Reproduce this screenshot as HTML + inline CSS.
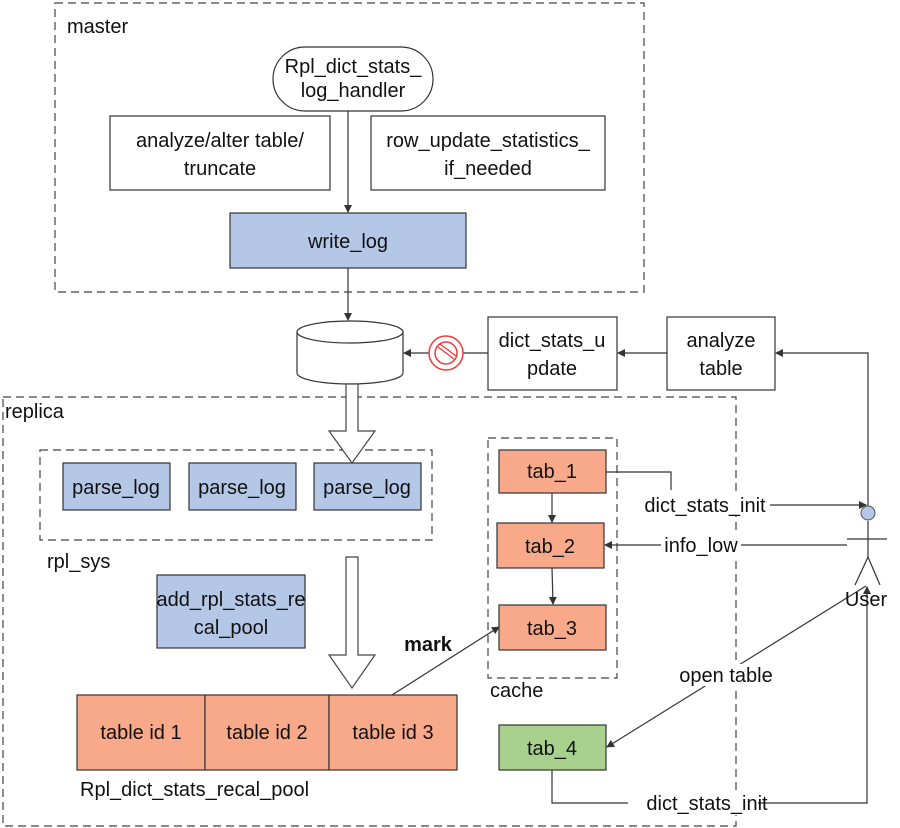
<!DOCTYPE html>
<html><head><meta charset="utf-8"><style>body{margin:0;background:#fff}svg{display:block}text{font-family:"Liberation Sans","Noto Sans CJK SC",sans-serif;font-size:20px;fill:#111}</style></head><body>
<svg width="900" height="828" viewBox="0 0 900 828" xmlns="http://www.w3.org/2000/svg">
<defs><marker id="a" markerWidth="8" markerHeight="8" refX="7" refY="4" orient="auto" markerUnits="userSpaceOnUse"><path d="M0,0 L8,4 L0,8 z" fill="#333"/></marker></defs>
<g fill="none" stroke="#444" stroke-width="1.2" stroke-dasharray="8,5">
<rect x="55" y="3" width="589" height="289"/>
<rect x="3" y="397" width="733" height="429"/>
<rect x="40" y="450" width="392" height="90"/>
<rect x="488" y="438" width="129" height="240"/>
</g>
<text x="67" y="33">master</text>
<text x="5" y="418">replica</text>
<text x="47" y="568">rpl_sys</text>
<text x="490" y="697">cache</text>
<text x="80" y="796">Rpl_dict_stats_recal_pool</text>
<g stroke="#333" stroke-width="1.2">
<rect x="273" y="47" width="160" height="64" rx="32" fill="#fff"/>
<rect x="110" y="116" width="220" height="74" fill="#fff"/>
<rect x="371" y="116" width="234" height="74" fill="#fff"/>
<rect x="230" y="213" width="236" height="55" fill="#b4c7e7"/>
<rect x="488" y="317" width="129" height="73" fill="#fff"/>
<rect x="667" y="317" width="108" height="73" fill="#fff"/>
<rect x="63" y="463" width="107" height="47" fill="#b4c7e7"/>
<rect x="189" y="463" width="107" height="47" fill="#b4c7e7"/>
<rect x="314" y="463" width="107" height="47" fill="#b4c7e7"/>
<rect x="157" y="575" width="148" height="73" fill="#b4c7e7"/>
<rect x="77" y="695" width="128" height="75" fill="#f8a98a"/>
<rect x="205" y="695" width="124" height="75" fill="#f8a98a"/>
<rect x="329" y="695" width="128" height="75" fill="#f8a98a"/>
<rect x="499" y="450" width="107" height="43" fill="#f8a98a"/>
<rect x="497" y="523" width="107" height="45" fill="#f8a98a"/>
<rect x="499" y="605" width="107" height="45" fill="#f8a98a"/>
<rect x="499" y="725" width="107" height="45" fill="#a9d18e"/>
</g>
<path d="M297,332 L297,373 A53,11 0 0 0 403,373 L403,332" fill="#fff" stroke="#333" stroke-width="1.2"/>
<ellipse cx="350" cy="332" rx="53" ry="11" fill="#fff" stroke="#333" stroke-width="1.2"/>
<path d="M346,384 L358,384 L358,431 L375,431 L352,463 L329,431 L346,431 Z" fill="#fff" stroke="#444" stroke-width="1.2"/>
<path d="M346,557 L358,557 L358,655 L375,655 L352,688 L329,655 L346,655 Z" fill="#fff" stroke="#444" stroke-width="1.2"/>
<g stroke="#333" stroke-width="1.2" fill="none">
<line x1="348" y1="111" x2="348" y2="212" marker-end="url(#a)"/>
<line x1="348" y1="268" x2="348" y2="320" marker-end="url(#a)"/>
<line x1="488" y1="353" x2="404" y2="353" marker-end="url(#a)"/>
<line x1="667" y1="353" x2="618" y2="353" marker-end="url(#a)"/>
<polyline points="868,506 868,353 776,353" marker-end="url(#a)"/>
<line x1="552" y1="493" x2="552" y2="522" marker-end="url(#a)"/>
<line x1="552" y1="568" x2="553" y2="604" marker-end="url(#a)"/>
<line x1="392" y1="695" x2="499" y2="627" marker-end="url(#a)"/>
<polyline points="606,472 671,472 671,490"/>
<line x1="770" y1="505" x2="866" y2="505" marker-end="url(#a)"/>
<line x1="847" y1="545" x2="605" y2="545" marker-end="url(#a)"/>
<line x1="866" y1="586" x2="607" y2="747" marker-end="url(#a)"/>
<polyline points="552,770 552,803 867,803 867,587" marker-end="url(#a)"/>
<line x1="868" y1="521" x2="868" y2="557"/>
<line x1="847" y1="539" x2="887" y2="539"/>
<polyline points="855,585 868,557 880,585"/>
</g>
<circle cx="868" cy="513" r="7" fill="#b4c7e7" stroke="#555"/>
<circle cx="446" cy="353" r="17" fill="#fff" stroke="#f03a3a" stroke-width="1.5"/>
<circle cx="446" cy="353" r="11" fill="none" stroke="#f03a3a" stroke-width="1.5"/>
<path d="M438,347 L454,359 M440,344 L456,356" stroke="#f03a3a" stroke-width="1.3"/>
<rect x="640" y="493" width="130" height="22" fill="#fff"/>
<rect x="661" y="535" width="80" height="22" fill="#fff"/>
<rect x="672" y="664" width="108" height="22" fill="#fff"/>
<rect x="628" y="793" width="130" height="22" fill="#fff"/>
<g text-anchor="middle">
<text x="353" y="73">Rpl_dict_stats_</text><text x="353" y="97">log_handler</text>
<text x="220" y="147">analyze/alter table/</text><text x="220" y="175">truncate</text>
<text x="488" y="147">row_update_statistics_</text><text x="488" y="175">if_needed</text>
<text x="348" y="248">write_log</text>
<text x="552" y="347">dict_stats_u</text><text x="552" y="375">pdate</text>
<text x="721" y="347">analyze</text><text x="721" y="375">table</text>
<text x="116" y="494">parse_log</text><text x="242" y="494">parse_log</text><text x="367" y="494">parse_log</text>
<text x="231" y="606">add_rpl_stats_re</text><text x="231" y="634">cal_pool</text>
<text x="141" y="739">table id 1</text><text x="267" y="739">table id 2</text><text x="393" y="739">table id 3</text>
<text x="552" y="478">tab_1</text><text x="550" y="553">tab_2</text><text x="552" y="635">tab_3</text><text x="552" y="755">tab_4</text>
<text x="705" y="512">dict_stats_init</text>
<text x="701" y="552">info_low</text>
<text x="726" y="682">open table</text>
<text x="707" y="810">dict_stats_init</text>
<text x="866" y="606">User</text>
<text x="428" y="651" style="font-weight:bold">mark</text>
</g>
</svg>
</body></html>
